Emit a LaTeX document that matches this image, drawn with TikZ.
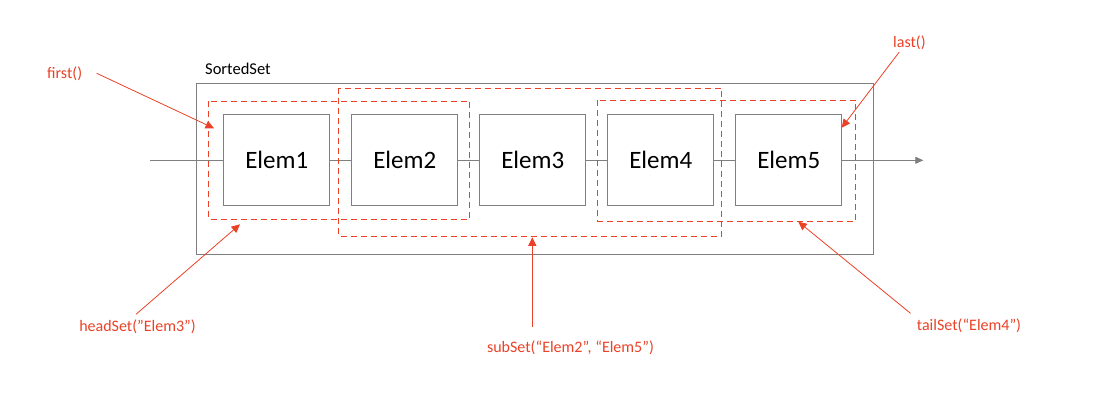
\documentclass[tikz,border=0pt]{standalone}
\usepackage{fontspec}
\setmainfont{Carlito}
\usetikzlibrary{arrows.meta}
\definecolor{lred}{HTML}{EA4127}
\definecolor{lgray}{HTML}{7F7F7F}
\begin{document}
\begin{tikzpicture}[x=1pt,y=-1pt,
  elembox/.style={draw=lgray,line width=1pt,minimum width=106pt,minimum height=91pt,inner sep=0pt,font=\fontsize{25}{28}\selectfont,anchor=north west},
  dashbox/.style={draw=lred,line width=1pt,dash pattern=on 6pt off 4pt},
  redlabel/.style={text=lred,font=\fontsize{16}{19}\selectfont,inner sep=0pt},
  redarrow/.style={draw=lred,line width=0.8pt,-{Triangle[length=8.5pt,width=8pt]}},
]
\useasboundingbox (0,0) rectangle (1104,396);
% outer box
\draw[lgray,line width=1pt] (196.7,83.3) rectangle (873.3,254);
\node[anchor=south west,inner sep=0pt,font=\fontsize{16.5}{19}\selectfont] (lbl) at (205,75) {SortedSet};
% chain
\coordinate (start) at (150,160.3);
\coordinate (finish) at (923.3,160.3);
\node[elembox] (e1) at (223.3,114.3) {Elem1};
\node[elembox] (e2) at (351.3,114.3) {Elem2};
\node[elembox] (e3) at (479.3,114.3) {Elem3};
\node[elembox] (e4) at (607.3,114.3) {Elem4};
\node[elembox] (e5) at (735.3,114.3) {Elem5};
\draw[lgray,line width=0.8pt] (start) -- (e1.west);
\draw[lgray,line width=0.8pt] (e1.east) -- (e2.west);
\draw[lgray,line width=0.8pt] (e2.east) -- (e3.west);
\draw[lgray,line width=0.8pt] (e3.east) -- (e4.west);
\draw[lgray,line width=0.8pt] (e4.east) -- (e5.west);
\draw[lgray,line width=0.8pt,-{Triangle[length=8pt,width=7pt]}] (e5.east) -- (finish);
% dashed ranges
\draw[dashbox] (208.3,101.3) rectangle (469.7,219);
\draw[dashbox] (338.3,88.3) rectangle (721.7,236);
\draw[dashbox] (597.3,100.3) rectangle (855.7,221);
% labels
\node[redlabel,anchor=west] (first) at (47,73.3) {first()};
\node[redlabel,anchor=west] (last) at (893,42.3) {last()};
\node[redlabel] (head) at (137.5,327) {headSet(”Elem3”)};
\node[redlabel] (sub) at (570.5,347.5) {subSet(“Elem2”, “Elem5”)};
\node[redlabel] (tail) at (969,326) {tailSet(“Elem4”)};
\coordinate (firsttip) at (214,128.3);
\coordinate (lasttip) at (841.7,127.7);
\coordinate (headtip) at (240,224.3);
\coordinate (subtip) at (532.3,237.3);
\coordinate (tailtip) at (798.3,221.7);
\coordinate (firsts) at (96.7,73.3);
\coordinate (lasts) at (899.3,52);
\coordinate (heads) at (136,314.3);
\coordinate (subs) at (532.3,326.7);
\coordinate (tails) at (910.5,313.3);
\draw[redarrow] (firsts) -- (firsttip);
\draw[redarrow] (lasts) -- (lasttip);
\draw[redarrow] (heads) -- (headtip);
\draw[redarrow] (subs) -- (subtip);
\draw[redarrow] (tails) -- (tailtip);
\end{tikzpicture}
\end{document}
